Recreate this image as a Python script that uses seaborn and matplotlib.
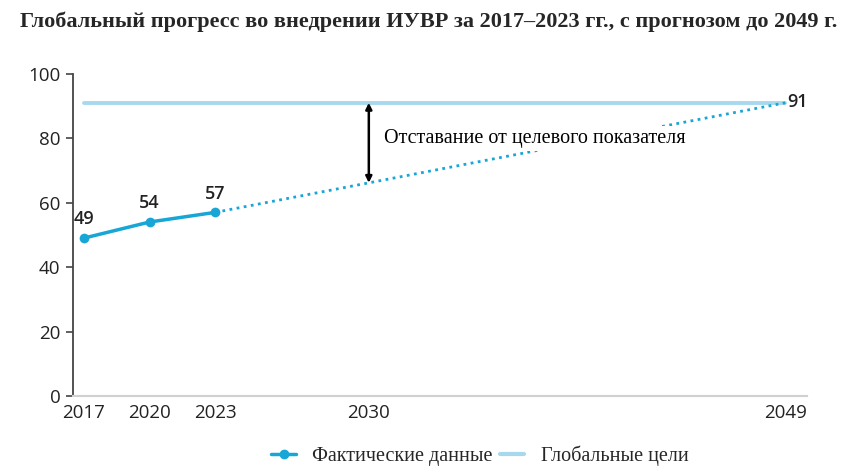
import matplotlib
matplotlib.use("Agg")
import matplotlib.pyplot as plt
import seaborn as sns
import pandas as pd
from matplotlib.lines import Line2D

years = [2017, 2020, 2023]
actual = [49, 54, 57]
proj_years = [2023, 2049]
proj_values = [57, 91]
target_years = [2017, 2049]
target_values = [91, 91]
gap_year = 2030
xticks = [2017, 2020, 2023, 2030, 2049]
yticks = [0, 20, 40, 60, 80, 100]

title = "Глобальный прогресс во внедрении ИУВР за 2017–2023 гг., с прогнозом до 2049 г."
gap_label = "Отставание от целевого показателя"
legend_labels = ["Фактические данные", "Глобальные цели"]

c_actual = "#17a6d6"
c_target = "#a8d8ee"

sns.set_style("white")
serif = ["Liberation Serif", "DejaVu Serif"]
sans = ["Open Sans", "DejaVu Sans"]

fig = plt.figure(figsize=(8.57, 4.76), dpi=100)
ax = fig.add_axes([0.085, 0.168, 0.857, 0.677])

df = pd.DataFrame({"year": years, "value": actual})
sns.lineplot(data=df, x="year", y="value", ax=ax, color=c_actual, lw=2.5,
             marker="o", markersize=7, markeredgewidth=0, zorder=4)
sns.lineplot(x=proj_years, y=proj_values, ax=ax, color=c_actual, lw=2,
             linestyle=(0, (1, 1.6)), zorder=3)
sns.lineplot(x=target_years, y=target_values, ax=ax, color=c_target, lw=2.8, zorder=2)

for x, v in zip(years, actual):
    ax.text(x, v + 3, str(v), ha="center", va="bottom", fontsize=13,
            family=sans, color="#222222", fontweight="semibold")
ax.text(proj_years[-1] + 0.1, proj_values[-1] + 0.3, str(proj_values[-1]), ha="left",
        va="center", fontsize=13, family=sans, color="#222222", fontweight="semibold")

# gap arrow at 2030
gap_val = proj_values[0] + (proj_values[1] - proj_values[0]) * (gap_year - proj_years[0]) / (proj_years[1] - proj_years[0])
ax.annotate("", xy=(gap_year, target_values[0]), xytext=(gap_year, gap_val),
            arrowprops=dict(arrowstyle="<|-|>", color="black", lw=1.8,
                            mutation_scale=9, shrinkA=0, shrinkB=0), zorder=5)
ax.text(gap_year + 0.7, 80.0, gap_label, ha="left", va="center", fontsize=14.5,
        family=serif, color="black", zorder=6,
        bbox=dict(facecolor="white", edgecolor="none", pad=2))

ax.set_xlim(2016.5, 2050)
ax.set_ylim(0, 100)
ax.set_xticks(xticks)
ax.set_yticks(yticks)
ax.set_xlabel("")
ax.set_ylabel("")
for lab in ax.get_xticklabels() + ax.get_yticklabels():
    lab.set_family(sans)
    lab.set_fontsize(13.5)
    lab.set_color("#222222")
ax.tick_params(axis="x", length=0, pad=6)
ax.tick_params(axis="y", length=5, width=1.2, color="#444444", left=True, pad=4)
for s in ["top", "right"]:
    ax.spines[s].set_visible(False)
ax.spines["left"].set_color("#444444")
ax.spines["left"].set_linewidth(1.3)
ax.spines["bottom"].set_color("#d0d0d0")
ax.spines["bottom"].set_linewidth(1.5)

handles = [Line2D([], [], color=c_actual, lw=2.5, marker="o", markersize=6),
           Line2D([], [], color=c_target, lw=3)]
fig.legend(handles, legend_labels, loc="center", bbox_to_anchor=(0.56, 0.042),
           ncol=2, frameon=False, handlelength=1.2, handletextpad=0.8,
           columnspacing=0.4, prop=dict(family=serif, size=14.5))

fig.text(0.5, 0.955, title, ha="center", va="center", fontsize=16,
         fontweight="bold", family=serif)

fig.savefig("out.png", dpi=100)
